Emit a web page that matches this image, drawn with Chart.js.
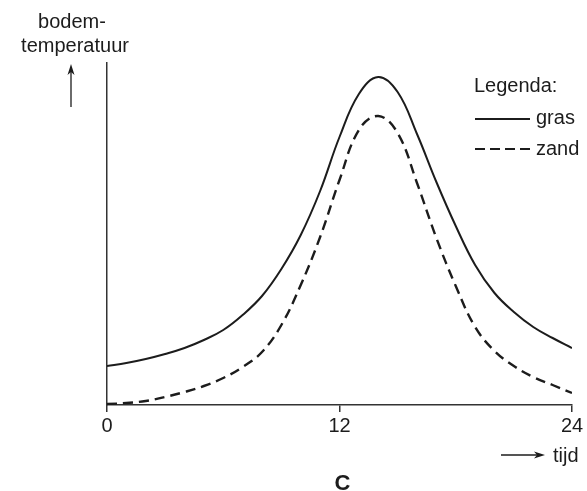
<!DOCTYPE html>
<html>
<head>
<meta charset="utf-8">
<script src="https://cdn.jsdelivr.net/npm/chart.js@4.4.1/dist/chart.umd.min.js"></script>
<style>
  html, body { margin: 0; padding: 0; background: #fff; }
  #wrap { width: 587px; height: 491px; position: relative; }
</style>
</head>
<body>
<div id="wrap"><canvas id="chartBodem" width="587" height="491"></canvas></div>
<script>
// tijd (uren)
const uren = [0, 1, 2, 3, 4, 5, 6, 7, 8, 9, 10, 11, 12, 13, 14, 15, 16, 17, 18, 19, 20, 21, 22, 23, 24];
// bodemtemperatuur (relatieve eenheden, geen schaal op de as)
const gras = [39, 42, 46, 51, 57, 65, 75, 90, 109, 136, 170, 214, 268, 311, 328, 313, 271, 223, 179, 140, 112, 93, 78, 67, 57];
const zand = [1, 2, 4, 8, 13, 19, 27, 38, 53, 80, 120, 168, 225, 275, 289, 272, 222, 167, 119, 78, 54, 39, 28, 20, 12];
const xTicks = [0, 12, 24];

const ink = "#1c1c1c";
const font = "'Liberation Sans', Arial, sans-serif";

(function () {
  const pts = (ys) => uren.map((x, i) => ({ x: x, y: ys[i] }));

  // pijltje met gevulde punt
  const arrow = (ctx, x1, y1, x2, y2) => {
    const a = Math.atan2(y2 - y1, x2 - x1);
    ctx.beginPath();
    ctx.moveTo(x1, y1);
    ctx.lineTo(x2 - 6 * Math.cos(a), y2 - 6 * Math.sin(a));
    ctx.stroke();
    ctx.beginPath();
    ctx.moveTo(x2, y2);
    ctx.lineTo(x2 - 11 * Math.cos(a) + 3.5 * Math.sin(a), y2 - 11 * Math.sin(a) - 3.5 * Math.cos(a));
    ctx.lineTo(x2 - 8 * Math.cos(a), y2 - 8 * Math.sin(a));
    ctx.lineTo(x2 - 11 * Math.cos(a) - 3.5 * Math.sin(a), y2 - 11 * Math.sin(a) + 3.5 * Math.cos(a));
    ctx.closePath();
    ctx.fill();
  };

  const annotaties = {
    id: "annotaties",
    afterDraw(chart) {
      const ctx = chart.ctx;
      const area = chart.chartArea;
      ctx.save();
      ctx.fillStyle = ink;
      ctx.strokeStyle = ink;
      ctx.font = "20px " + font;
      ctx.textBaseline = "alphabetic";

      // as-titels
      ctx.textAlign = "center";
      ctx.fillText("bodem-", 72, 28);
      ctx.fillText("temperatuur", 75, 52);
      ctx.lineWidth = 1.3;
      arrow(ctx, 71, 107, 71, 64);

      ctx.textAlign = "left";
      ctx.fillText("tijd", 553, 462);
      arrow(ctx, 501, 455, 545, 455);

      // legenda
      const lx = area.right - 98;
      ctx.fillText("Legenda:", lx, 92);
      ctx.fillText("gras", lx + 62, 124);
      ctx.fillText("zand", lx + 62, 155);
      ctx.lineWidth = 2;
      ctx.beginPath();
      ctx.moveTo(lx + 1, 119);
      ctx.lineTo(lx + 56, 119);
      ctx.stroke();
      ctx.setLineDash([10, 5]);
      ctx.beginPath();
      ctx.moveTo(lx + 1, 149);
      ctx.lineTo(lx + 56, 149);
      ctx.stroke();
      ctx.setLineDash([]);

      // figuurletter
      ctx.textAlign = "center";
      ctx.font = "bold 22px " + font;
      ctx.fillText("C", (area.left + area.right) / 2 + 3, 490);
      ctx.restore();
    },
  };

  const ctx = document.getElementById("chartBodem").getContext("2d");
  new Chart(ctx, {
    type: "line",
    data: {
      datasets: [
        {
          label: "gras",
          data: pts(gras),
          borderColor: ink,
          borderWidth: 2,
          pointRadius: 0,
          fill: false,
          tension: 0.4,
        },
        {
          label: "zand",
          data: pts(zand),
          borderColor: ink,
          borderWidth: 2.4,
          borderDash: [10, 6],
          pointRadius: 0,
          fill: false,
          tension: 0.4,
        },
      ],
    },
    options: {
      responsive: false,
      animation: false,
      events: [],
      layout: { padding: { top: 63, right: 15, left: 0, bottom: 0 } },
      plugins: { legend: { display: false }, tooltip: { enabled: false } },
      scales: {
        x: {
          type: "linear",
          min: 0,
          max: 24,
          afterBuildTicks: (scale) => {
            scale.ticks = xTicks.map((v) => ({ value: v }));
          },
          afterFit: (scale) => {
            scale.height = 86;
          },
          ticks: {
            color: ink,
            font: { family: font, size: 20 },
            padding: 2,
            maxRotation: 0,
          },
          grid: { drawOnChartArea: false, drawTicks: true, tickLength: 7, color: "#333", lineWidth: 1.5 },
          border: { color: "#333", width: 1.5 },
        },
        y: {
          min: 0,
          max: 342,
          afterFit: (scale) => {
            scale.width = 107;
          },
          ticks: { display: false },
          grid: { drawOnChartArea: false, drawTicks: false },
          border: { color: "#333", width: 1.5 },
        },
      },
    },
    plugins: [annotaties],
  });
})();
</script>
</body>
</html>
